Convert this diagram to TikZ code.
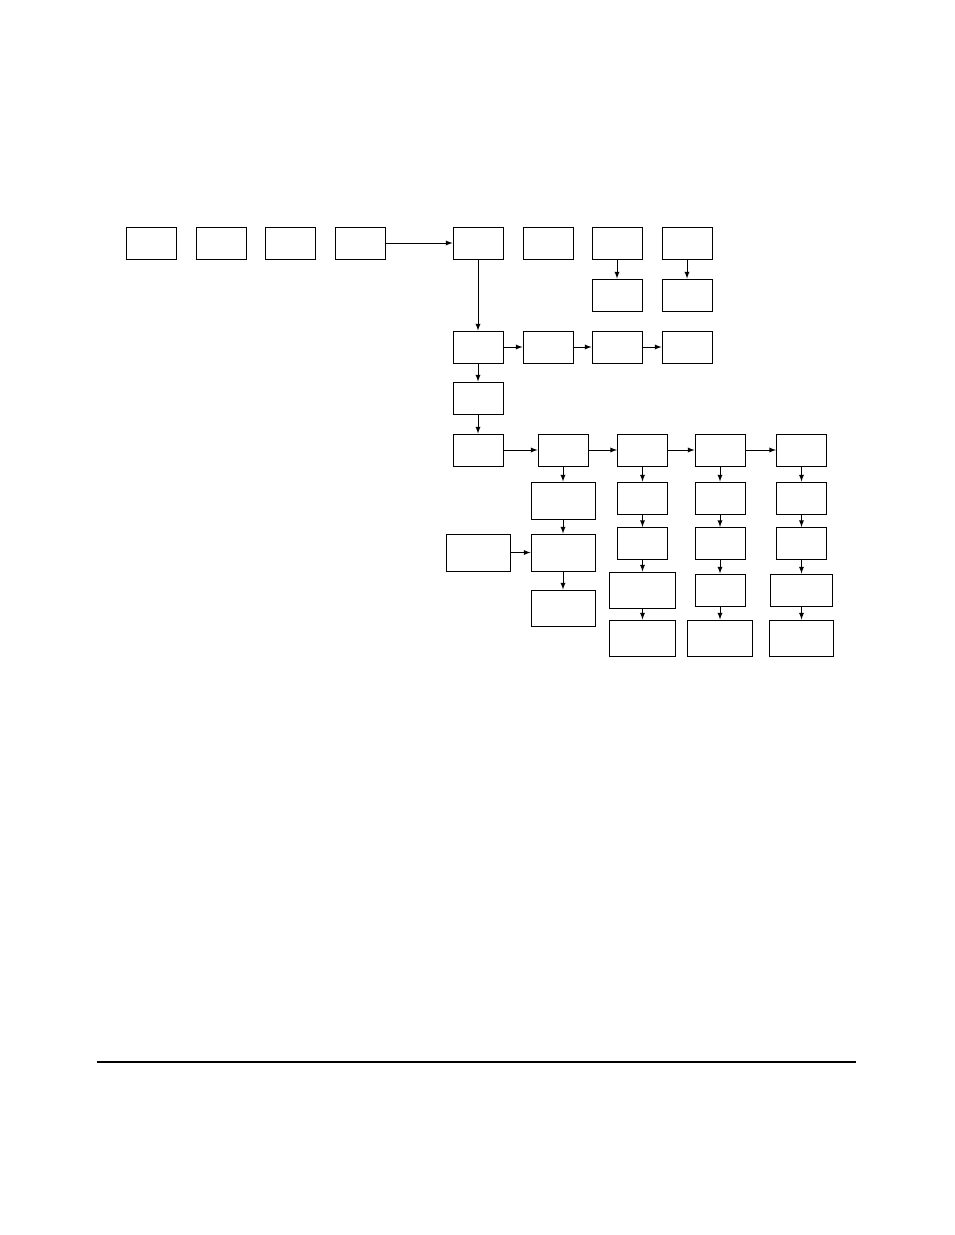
\documentclass[tikz,border=0pt]{standalone}
\usepackage{tikz}
\usetikzlibrary{arrows}

\tikzset{
    blk/.style={draw, line width=0.75pt, inner sep=0pt, minimum width=37.5pt, minimum height=24pt},
    link/.style={->, >=latex, line width=0.75pt},
}

\begin{document}
\begin{tikzpicture}[x=0.75pt, y=-0.75pt]
\useasboundingbox (0,0) rectangle (954,1235);
% top row
\foreach \n/\x in {1/151.5,2/221,3/290.5,4/360.5,5/478,6/548,7/617,8/687}
    \node[blk] (t\n) at (\x,243) {};
\node[blk] (s7) at (617,295) {};
\node[blk] (s8) at (687,295) {};
% second row
\foreach \n/\x in {1/478,2/548,3/617,4/687}
    \node[blk] (m\n) at (\x,347) {};
\node[blk] (v3) at (478,398) {};
\node[blk] (v4) at (478,450) {};
% third row
\foreach \n/\x in {1/563,2/642.5,3/720,4/801.5}
    \node[blk] (e\n) at (\x,450) {};
% first column
\node[blk, minimum width=48pt, minimum height=27.75pt] (f1) at (563,500.5) {};
\node[blk, minimum width=48pt, minimum height=27.75pt] (g1) at (563,552.5) {};
\node[blk, minimum width=48pt, minimum height=27pt] (h1) at (563,608) {};
\node[blk, minimum width=48pt, minimum height=27.75pt] (l1) at (478,552.5) {};
% other columns
\foreach \k/\x/\hw/\hh/\iw in {2/642.5/49.5pt/27pt/49.5pt, 3/720/37.5pt/24pt/48.75pt, 4/801.5/46.5pt/24pt/48pt} {
    \node[blk] (f\k) at (\x,498) {};
    \node[blk] (g\k) at (\x,543.5) {};
    \node[blk, minimum width=\hw, minimum height=\hh] (h\k) at (\x,590) {};
    \node[blk, minimum width=\iw, minimum height=27pt] (i\k) at (\x,638) {};
    \draw[link] (e\k) -- (f\k);
    \draw[link] (f\k) -- (g\k);
    \draw[link] (g\k) -- (h\k);
    \draw[link] (h\k) -- (i\k);
}
\foreach \a/\b in {t4/t5, t5/m1, t7/s7, t8/s8, m1/m2, m2/m3, m3/m4, m1/v3, v3/v4,
    v4/e1, e1/e2, e2/e3, e3/e4, e1/f1, f1/g1, l1/g1, g1/h1}
    \draw[link] (\a) -- (\b);
% rule at the foot
\draw[line width=1.5pt] (97,1062) -- (856,1062);
\end{tikzpicture}
\end{document}
